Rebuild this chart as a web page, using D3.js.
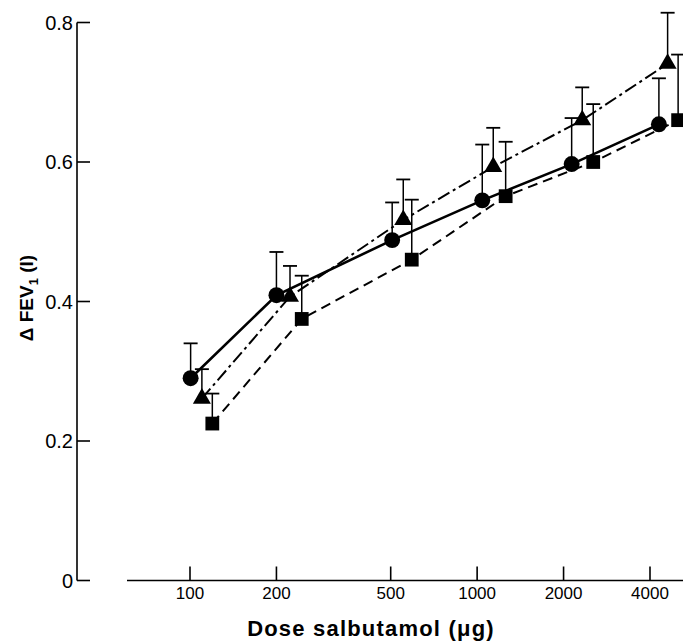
<!DOCTYPE html>
<html>
<head>
<meta charset="utf-8">
<script src="https://cdn.jsdelivr.net/npm/d3@7"></script>
<style>
html,body{margin:0;padding:0;background:#fff;}
svg{display:block;font-family:"Liberation Sans",Arial,Helvetica,sans-serif;}
</style>
</head>
<body>
<svg id="chart" width="683" height="641"></svg>
<script>
// ---- data ----
const doseTicks = [100, 200, 500, 1000, 2000, 4000];
const yTicks = [0, 0.2, 0.4, 0.6, 0.8];
const yTickLabels = ["0", "0.2", "0.4", "0.6", "0.8"];

// plotted dose positions (points are slightly staggered in the original)
const circleDose   = [100.5, 200, 506, 1042, 2134, 4296];
const triangleDose = [110, 223, 553, 1138, 2323, 4607];
const squareDose   = [119.6, 245, 592, 1257, 2537, 5012];

const circleMean   = [0.290, 0.409, 0.488, 0.545, 0.597, 0.654];
const circleUpper  = [0.340, 0.471, 0.542, 0.625, 0.663, 0.720];
const triangleMean = [0.261, 0.407, 0.517, 0.593, 0.660, 0.741];
const triangleUpper= [0.303, 0.451, 0.575, 0.649, 0.707, 0.814];
const squareMean   = [0.225, 0.375, 0.460, 0.551, 0.600, 0.660];
const squareUpper  = [0.268, 0.437, 0.546, 0.629, 0.683, 0.754];

const xTitle = "Dose salbutamol (\u03bcg)";

// ---- chart ----
const svg = d3.select("#chart");
const x = d3.scaleLog().domain([100, 4000]).range([190, 650]);
const y = d3.scaleLinear().domain([0, 0.8]).range([580.5, 22.5]);

// y axis
const yAxisG = svg.append("g").attr("transform", "translate(77,0)");
yAxisG.append("line").attr("x1", 0).attr("x2", 0).attr("y1", y(0)).attr("y2", y(0.8))
  .attr("stroke", "#000").attr("stroke-width", 1.6);
yAxisG.selectAll("line.tick").data(yTicks).join("line").attr("class", "tick")
  .attr("x1", 0).attr("x2", 13).attr("y1", d => y(d)).attr("y2", d => y(d))
  .attr("stroke", "#000").attr("stroke-width", 1.6);
yAxisG.selectAll("text").data(yTicks).join("text")
  .attr("x", -4).attr("y", d => y(d)).attr("dy", "0.36em")
  .attr("text-anchor", "end").attr("font-size", 20)
  .text((d, i) => yTickLabels[i]);

// x axis
const xAxisG = svg.append("g").attr("transform", "translate(0,580.5)");
xAxisG.append("line").attr("x1", 127).attr("x2", 683).attr("y1", 0).attr("y2", 0)
  .attr("stroke", "#000").attr("stroke-width", 1.6);
xAxisG.selectAll("line.tick").data(doseTicks).join("line").attr("class", "tick")
  .attr("x1", d => x(d)).attr("x2", d => x(d)).attr("y1", 0).attr("y2", -14)
  .attr("stroke", "#000").attr("stroke-width", 1.6);
xAxisG.selectAll("text").data(doseTicks).join("text")
  .attr("x", d => x(d)).attr("y", 18.5)
  .attr("text-anchor", "middle").attr("font-size", 17)
  .text(d => String(d));

// titles
svg.append("text").attr("x", 371).attr("y", 636).attr("text-anchor", "middle")
  .attr("font-size", 22).attr("letter-spacing", 1.2).attr("font-weight", "bold").text(xTitle);

const yl = svg.append("text").attr("transform", "translate(33,298) rotate(-90)")
  .attr("text-anchor", "middle").attr("font-size", 19).attr("font-weight", "bold");
yl.append("tspan").text("\u0394 FEV");
yl.append("tspan").attr("font-size", 13).attr("dy", 5).text("1");
yl.append("tspan").attr("dy", -5).text(" (l)");

// series
const series = [
  {dose: circleDose, mean: circleMean, upper: circleUpper, dash: null, shape: "circle"},
  {dose: triangleDose, mean: triangleMean, upper: triangleUpper, dash: "13,4,3,4", shape: "triangle"},
  {dose: squareDose, mean: squareMean, upper: squareUpper, dash: "10,6", shape: "square"}
];

const line = d3.line().x(d => x(d[0])).y(d => y(d[1]));
const plot = svg.append("g");

series.forEach(s => {
  const pts = s.dose.map((d, i) => [d, s.mean[i], s.upper[i]]);
  plot.append("path").datum(pts).attr("d", line).attr("fill", "none")
    .attr("stroke", "#000").attr("stroke-width", s.shape === "circle" ? 2.6 : 2)
    .attr("stroke-dasharray", s.dash);
});

series.forEach(s => {
  const pts = s.dose.map((d, i) => [d, s.mean[i], s.upper[i]]);
  const g = plot.append("g");
  g.selectAll("line.err").data(pts).join("line").attr("class", "err")
    .attr("x1", d => x(d[0])).attr("x2", d => x(d[0]))
    .attr("y1", d => y(d[1])).attr("y2", d => y(d[2]))
    .attr("stroke", "#000").attr("stroke-width", 1.5);
  g.selectAll("line.cap").data(pts).join("line").attr("class", "cap")
    .attr("x1", d => x(d[0]) - 7).attr("x2", d => x(d[0]) + 7)
    .attr("y1", d => y(d[2])).attr("y2", d => y(d[2]))
    .attr("stroke", "#000").attr("stroke-width", 1.8);
  const sym = s.shape === "circle" ? d3.symbolCircle : s.shape === "triangle" ? d3.symbolTriangle : d3.symbolSquare;
  const size = s.shape === "circle" ? 200 : s.shape === "triangle" ? 140 : 190;
  g.selectAll("path.m").data(pts).join("path").attr("class", "m")
    .attr("transform", d => `translate(${x(d[0])},${y(d[1])})`)
    .attr("d", d3.symbol().type(sym).size(size)).attr("fill", "#000");
});
</script>
</body>
</html>
